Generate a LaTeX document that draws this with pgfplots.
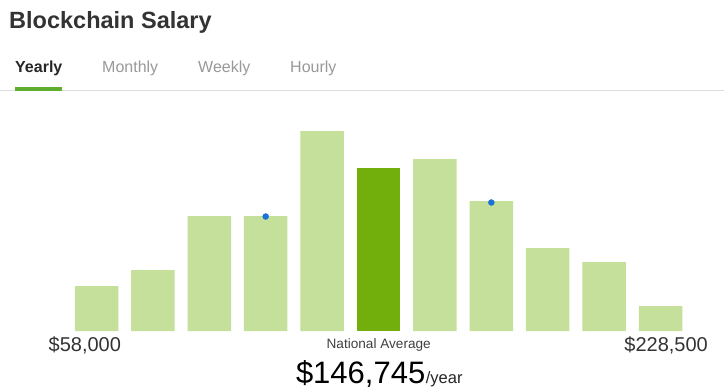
\documentclass[border=0pt]{standalone}
\usepackage{fontspec}
\setmainfont{Liberation Sans}
\usepackage{pgfplots}
\pgfplotsset{compat=1.18}
\definecolor{lgreen}{HTML}{C4E09A}
\definecolor{dgreen}{HTML}{72AF0C}
\definecolor{tabgreen}{HTML}{5FAE2E}
\definecolor{dotblue}{HTML}{1A73D9}
\definecolor{titlec}{HTML}{333333}
\definecolor{tabgray}{HTML}{999999}
\definecolor{linegray}{HTML}{DDDDDD}
\newcommand{\fs}[1]{\fontsize{#1bp}{#1bp}\selectfont}
\begin{document}
\begin{tikzpicture}
\begin{scope}[x=1bp,y=1bp]
\useasboundingbox (0,0) rectangle (724,391);
\fill[white] (0,0) rectangle (724,391);
% title
\node[anchor=base west,inner sep=0pt,text=titlec] at (9,391-28) {\fs{23.5}\bfseries Blockchain Salary};
% tabs
\node[anchor=base west,inner sep=0pt,text=black!85] at (15,391-72) {\fs{16}\bfseries Yearly};
\node[anchor=base west,inner sep=0pt,text=tabgray] at (102,391-72) {\fs{16}Monthly};
\node[anchor=base west,inner sep=0pt,text=tabgray] at (198,391-72) {\fs{16}Weekly};
\node[anchor=base west,inner sep=0pt,text=tabgray] at (290,391-72) {\fs{16}Hourly};
\fill[linegray] (0,391-91) rectangle (724,391-89.8);
\fill[tabgreen] (15,391-90.7) rectangle (62,391-87.3);
% labels
\node[anchor=base west,inner sep=0pt,text=titlec] at (48.5,391-351.7) {\fs{20}\$58,000};
\node[anchor=base east,inner sep=0pt,text=titlec] at (708,391-351.7) {\fs{20}\$228,500};
\node[anchor=base,inner sep=0pt,text=black!75] at (378.7,391-348) {\fs{13.6}National Average};
\node[anchor=base east,inner sep=0pt,text=black] at (425.5,391-383.3) {\fs{31}\$146,745};
\node[anchor=base west,inner sep=0pt,text=black!85] at (425.7,391-383.3) {\fs{16.5}/year};
\end{scope}
\begin{axis}[
  at={(68.3bp,60bp)}, anchor=south west,
  scale only axis, width=620.4bp, height=200bp,
  xmin=-0.5, xmax=10.5, ymin=0, ymax=200,
  hide axis, clip=false,
  ybar, bar width=43.5bp, bar shift=0pt,
]
\addplot[fill=lgreen, draw=none] coordinates {(0,45) (1,61) (2,115) (3,115) (4,200) (6,172) (7,130) (8,83) (9,69) (10,25)};
\addplot[fill=dgreen, draw=none] coordinates {(5,163)};
\addplot[only marks, mark=*, mark size=3bp, color=dotblue, forget plot] coordinates {(3,114.5) (7,128.5)};
\end{axis}
\end{tikzpicture}
\end{document}
